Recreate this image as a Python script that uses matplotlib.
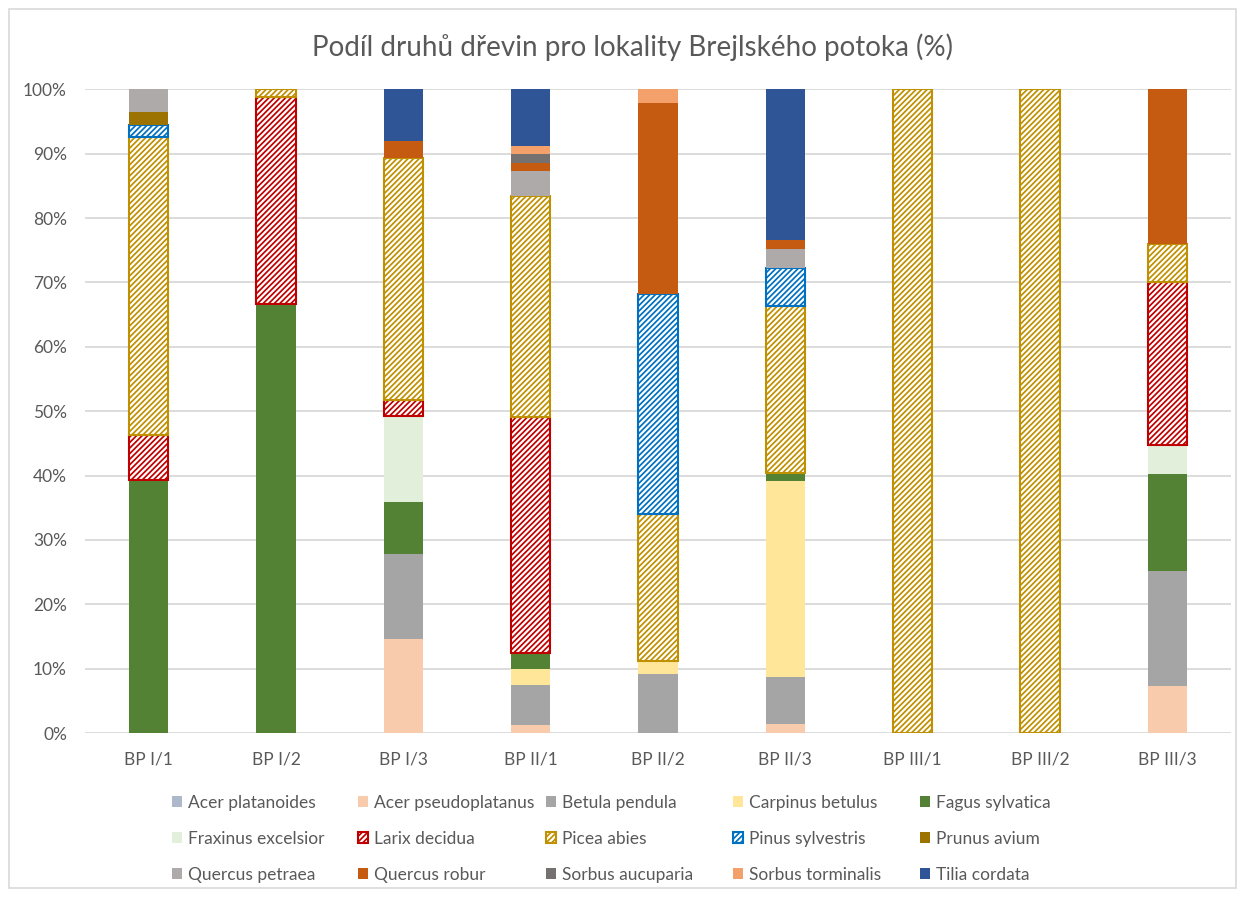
import numpy as np
import matplotlib
matplotlib.use("Agg")
import matplotlib.pyplot as plt
from matplotlib.patches import Rectangle
from matplotlib.ticker import PercentFormatter

plt.rcParams['font.family'] = ['Lato', 'DejaVu Sans']
plt.rcParams['hatch.linewidth'] = 1.25

# Sites (x categories)
sites = ["BP I/1", "BP I/2", "BP I/3", "BP II/1", "BP II/2", "BP II/3",
         "BP III/1", "BP III/2", "BP III/3"]

# Share of tree species per site (%), stacked bottom -> top in this order
species = ["Acer platanoides", "Acer pseudoplatanus", "Betula pendula",
           "Carpinus betulus", "Fagus sylvatica", "Fraxinus excelsior",
           "Larix decidua", "Picea abies", "Pinus sylvestris", "Prunus avium",
           "Quercus petraea", "Quercus robur", "Sorbus aucuparia",
           "Sorbus torminalis", "Tilia cordata"]

acer_platanoides = [0, 0, 0, 0, 0, 0, 0, 0, 0]
acer_pseudoplatanus = [0, 0, 14.6, 1.2, 0, 1.4, 0, 0, 7.3]
betula_pendula = [0, 0, 13.2, 6.2, 9.1, 7.3, 0, 0, 17.9]
carpinus_betulus = [0, 0, 0, 2.6, 2.1, 30.5, 0, 0, 0]
fagus_sylvatica = [39.3, 66.7, 8.1, 2.5, 0, 1.2, 0, 0, 15.0]
fraxinus_excelsior = [0, 0, 13.3, 0, 0, 0, 0, 0, 4.5]
larix_decidua = [7.0, 32.1, 2.6, 36.6, 0, 0, 0, 0, 25.3]
picea_abies = [46.3, 1.2, 37.5, 34.3, 22.8, 26.0, 100, 100, 6.0]
pinus_sylvestris = [1.8, 0, 0, 0, 34.2, 5.9, 0, 0, 0]
prunus_avium = [2.0, 0, 0, 0, 0, 0, 0, 0, 0]
quercus_petraea = [3.6, 0, 0, 3.9, 0, 2.9, 0, 0, 0]
quercus_robur = [0, 0, 2.6, 1.3, 29.6, 1.4, 0, 0, 24.0]
sorbus_aucuparia = [0, 0, 0, 1.3, 0, 0, 0, 0, 0]
sorbus_torminalis = [0, 0, 0, 1.3, 2.2, 0, 0, 0, 0]
tilia_cordata = [0, 0, 8.1, 8.8, 0, 23.4, 0, 0, 0]

values = [acer_platanoides, acer_pseudoplatanus, betula_pendula, carpinus_betulus,
          fagus_sylvatica, fraxinus_excelsior, larix_decidua, picea_abies,
          pinus_sylvestris, prunus_avium, quercus_petraea, quercus_robur,
          sorbus_aucuparia, sorbus_torminalis, tilia_cordata]

colors = ["#ADB9CA", "#F8CBAD", "#A5A5A5", "#FFE699", "#548235", "#E2EFDA",
          "#C00000", "#BF9000", "#0070C0", "#9C7200", "#AEAAAA", "#C55A11",
          "#767171", "#F4A06A", "#2F5597"]
hatched = {"Larix decidua", "Picea abies", "Pinus sylvestris"}

text_col = "#595959"
grid_col = "#D9D9D9"

fig = plt.figure(figsize=(12.45, 8.97), dpi=100)
ax = fig.add_axes([85 / 1245, 1 - 733 / 897, (1231 - 85) / 1245, (733 - 89.3) / 897])

x = np.arange(len(sites))
bottom = np.zeros(len(sites))
handles = []
for name, vals, col in zip(species, values, colors):
    v = np.array(vals, dtype=float)
    if name in hatched:
        lw = np.where(v > 0, 1.5, 0)
        bars = ax.bar(x, v, 0.31, bottom=bottom, facecolor="white", edgecolor=col,
                      hatch="//////", linewidth=lw, label=name, zorder=3)
    else:
        bars = ax.bar(x, v, 0.31, bottom=bottom, color=col, linewidth=0,
                      label=name, zorder=3)
    handles.append(bars)
    bottom += v

ax.set_xlim(-0.5, len(sites) - 0.5)
ax.set_ylim(0, 100)
ax.set_yticks(np.arange(0, 101, 10))
ax.yaxis.set_major_formatter(PercentFormatter(decimals=0))
ax.set_xticks(x)
ax.set_xticklabels(sites)
ax.tick_params(axis="both", length=0, labelsize=12.5, labelcolor=text_col)
ax.tick_params(axis="y", pad=13)
ax.tick_params(axis="x", pad=13)
ax.grid(axis="y", color=grid_col, linewidth=1.3, zorder=0)
ax.set_axisbelow(True)
for s in ax.spines.values():
    s.set_visible(False)

fig.text(632 / 1245, 1 - 47 / 897, "Podíl druhů dřevin pro lokality Brejlského potoka (%)",
         ha="center", va="center", fontsize=20, color=text_col)

# legend: 5 columns of 3 rows, laid out like the spreadsheet legend
col_x = [172, 358, 546, 733, 920]
for j, cx in enumerate(col_x):
    hs = [handles[j], handles[j + 5], handles[j + 10]]
    leg = fig.legend(hs, [species[j], species[j + 5], species[j + 10]],
                     loc="center left", bbox_to_anchor=(cx / 1245, 1 - 839 / 897),
                     frameon=False, fontsize=12.5, labelcolor=text_col,
                     handlelength=0.6, handleheight=0.6, handletextpad=0.35,
                     borderpad=0, borderaxespad=0, labelspacing=1.15)

fig.add_artist(Rectangle((9 / 1245, 9 / 897), 1227 / 1245, 879 / 897,
                         transform=fig.transFigure, fill=False,
                         edgecolor=grid_col, linewidth=1.2))

fig.savefig("out.png", dpi=100)
